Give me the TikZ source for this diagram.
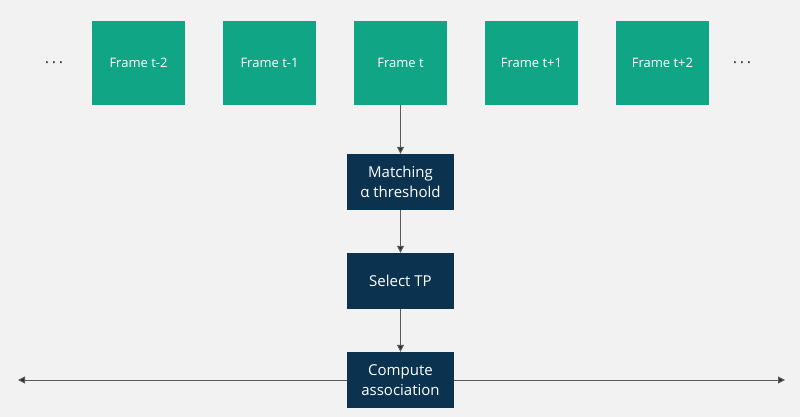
\documentclass[tikz,border=0pt]{standalone}
\usepackage{fontspec}
\setmainfont{Open Sans}
\usetikzlibrary{arrows.meta}
\definecolor{bg}{HTML}{F2F2F2}
\definecolor{framegreen}{HTML}{10A585}
\definecolor{navy}{HTML}{0B3350}
\definecolor{linegray}{HTML}{5A5A5A}
\definecolor{tipgray}{HTML}{2E2E2E}
\begin{document}
\begin{tikzpicture}[x=1pt,y=-1pt,
  framebox/.style={fill=framegreen, draw=none, minimum width=93pt, minimum height=84pt, inner sep=0pt, text=white, font=\fontsize{13}{15}\selectfont},
  stepbox/.style={fill=navy, draw=none, minimum width=107pt, minimum height=56pt, inner sep=0pt, text=white, align=center, font=\fontsize{15}{20.5}\selectfont},
  conn/.style={draw=linegray, line width=1pt, -{Triangle[length=7pt,width=7pt,fill=tipgray]}},
  dots/.style={text=black!80, font=\fontsize{16}{18}\selectfont}
]
\fill[bg] (0,0) rectangle (800,417);
\useasboundingbox (0,0) rectangle (800,417);
\node[framebox] (f1) at (138.5,63) {Frame t-2};
\node[framebox] (f2) at (269.5,63) {Frame t-1};
\node[framebox] (f3) at (400.5,63) {Frame t};
\node[framebox] (f4) at (531.5,63) {Frame t+1};
\node[framebox] (f5) at (662.5,63) {Frame t+2};
\node[dots] (dl) at (54,63) {.\,.\,.};
\node[dots] (dr) at (742,63) {.\,.\,.};
\node[stepbox] (match) at (400.5,182) {Matching\\α threshold};
\node[stepbox] (sel) at (400.5,281) {Select TP};
\node[stepbox] (comp) at (400.5,380) {Compute\\association};
\coordinate (lend) at (18,380);
\coordinate (rend) at (785,380);
\draw[conn] (f3) -- (match);
\draw[conn] (match) -- (sel);
\draw[conn] (sel) -- (comp);
\draw[conn] (comp.west) -- (lend);
\draw[conn] (comp.east) -- (rend);
\end{tikzpicture}
\end{document}
